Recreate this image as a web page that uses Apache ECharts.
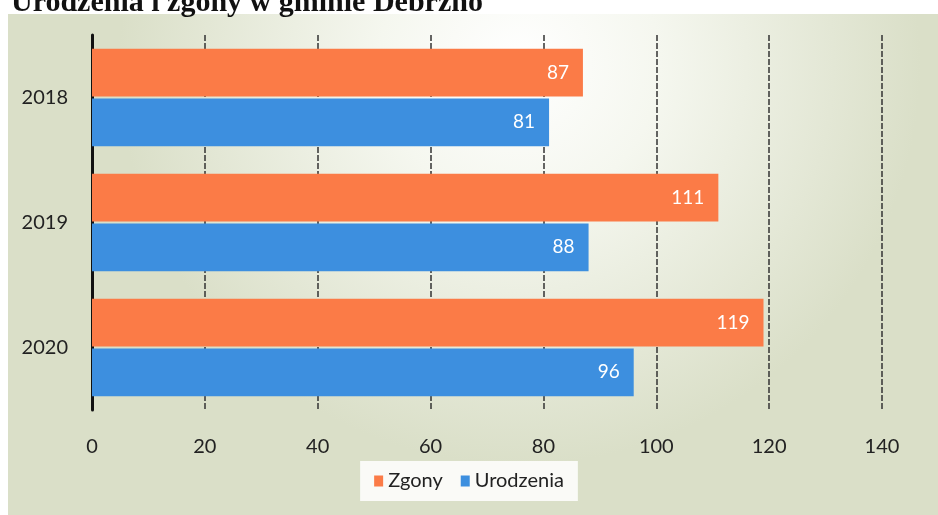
<!DOCTYPE html>
<html>
<head>
<meta charset="utf-8">
<script src="https://cdn.jsdelivr.net/npm/echarts@6/dist/echarts.min.js"></script>
<style>
  html, body { margin: 0; padding: 0; background: #fff; }
  #chart { width: 938px; height: 515px; }
</style>
</head>
<body>
<div id="chart"></div>
<script>
const years = ['2018', '2019', '2020'];
const zgony = [87, 111, 119];
const urodzenia = [81, 88, 96];
const xTicks = { min: 0, max: 140, interval: 20 };

const chart = echarts.init(document.getElementById('chart'));

const barLabel = {
  show: true,
  position: 'insideRight',
  distance: 14,
  color: '#fff',
  fontFamily: 'Lato',
  fontSize: 19
};

const options = {
  animation: false,
  title: {
    text: 'Urodzenia i zgony w gminie Debrzno',
    left: 6,
    top: -17,
    textStyle: {
      fontFamily: 'Liberation Serif',
      fontWeight: 'bold',
      fontSize: 30,
      color: '#111'
    }
  },
  graphic: [
    {
      type: 'rect',
      z: -10,
      silent: true,
      shape: { x: 8, y: 14, width: 930, height: 501 },
      style: {
        fill: new echarts.graphic.RadialGradient(0.55, 0.1, 0.8, [
          { offset: 0, color: '#ffffff' },
          { offset: 0.35, color: '#f5f7ef' },
          { offset: 1, color: '#dadfc8' }
        ])
      }
    }
  ],
  grid: {
    left: 92,
    right: 56,
    top: 35,
    bottom: 105
  },
  legend: {
    bottom: 14,
    left: 'center',
    icon: 'rect',
    itemWidth: 9,
    itemHeight: 11,
    itemGap: 18,
    padding: [10, 14],
    backgroundColor: 'rgba(255,255,255,0.85)',
    textStyle: {
      fontFamily: 'Lato',
      fontSize: 20,
      color: '#222'
    },
    data: ['Zgony', 'Urodzenia']
  },
  xAxis: {
    type: 'value',
    min: xTicks.min,
    max: xTicks.max,
    interval: xTicks.interval,
    axisLine: { show: false },
    axisTick: { show: false },
    axisLabel: {
      margin: 27,
      fontFamily: 'Lato',
      fontSize: 20,
      color: '#222'
    },
    splitLine: {
      show: true,
      lineStyle: { color: '#333', width: 1.5, type: [6, 2] }
    }
  },
  yAxis: {
    type: 'category',
    inverse: true,
    data: years,
    axisLine: { show: true, lineStyle: { color: '#111', width: 3 } },
    axisTick: { show: false },
    axisLabel: {
      margin: 24,
      fontFamily: 'Lato',
      fontSize: 20,
      color: '#222'
    }
  },
  series: [
    {
      name: 'Zgony',
      type: 'bar',
      data: zgony,
      barCategoryGap: '22%',
      barGap: '4%',
      itemStyle: { color: '#fb7b47' },
      label: barLabel
    },
    {
      name: 'Urodzenia',
      type: 'bar',
      data: urodzenia,
      barCategoryGap: '22%',
      barGap: '4%',
      itemStyle: { color: '#3d8fdf' },
      label: barLabel
    }
  ]
};

chart.setOption(options);
</script>
</body>
</html>
